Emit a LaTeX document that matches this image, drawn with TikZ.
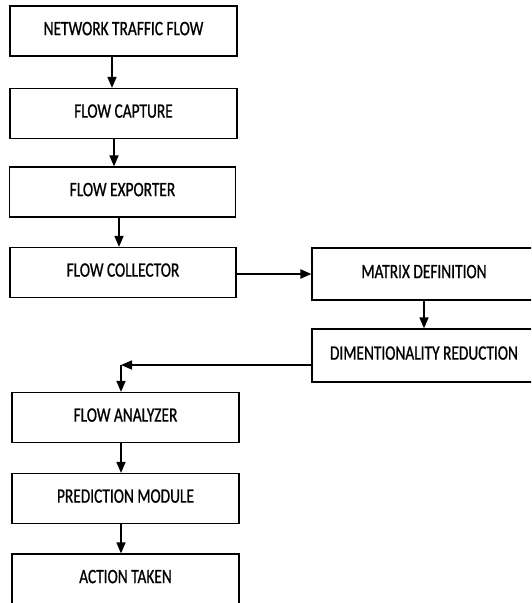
\documentclass[tikz,border=0pt]{standalone}
\usepackage{fontspec}
\setmainfont{Carlito}[FakeStretch=0.75, FakeBold=0.8]
\usetikzlibrary{arrows.meta, positioning, calc}

\begin{document}
\begin{tikzpicture}[x=1pt, y=-1pt,
  flowbox/.style={draw, line width=1.2pt, minimum width=227pt, minimum height=50pt,
    text depth=5pt, font=\fontsize{20.5}{24}\selectfont},
  flowarrow/.style={line width=1.6pt, -{Triangle[length=11pt, width=9pt]}}]
\useasboundingbox (0,0) rectangle (531,603);
\clip (0,0) rectangle (531,603);

% Upper left column
\node[flowbox] (net) at (123.5,31) {NETWORK TRAFFIC FLOW};
\node[flowbox] (cap) at (123.5,113.5) {FLOW CAPTURE};
\node[flowbox, minimum width=226pt] (exp) at (122.5,192) {FLOW EXPORTER};
\node[flowbox, minimum width=226pt] (col) at (123,272.5) {FLOW COLLECTOR};

% Right column (runs past the page edge)
\node[flowbox, minimum width=224pt, minimum height=52pt] (mat) at (424,274) {MATRIX DEFINITION};
\node[flowbox, minimum width=224pt, minimum height=53pt] (dim) at (424,355.5) {DIMENTIONALITY REDUCTION};

% Lower left column
\node[flowbox] (ana) at (125.5,417.5) {FLOW ANALYZER};
\node[flowbox] (pred) at (125.5,498.5) {PREDICTION MODULE};
\node[flowbox] (act) at (125.5,579) {ACTION TAKEN};

% Arrows
\draw[flowarrow] ([xshift=-11.5pt]net.south) -- ([xshift=-11.5pt]cap.north);
\draw[flowarrow] ([xshift=-9.5pt]cap.south) -- ([xshift=-8.5pt]exp.north);
\draw[flowarrow] ([xshift=-3.5pt]exp.south) -- ([xshift=-4pt]col.north);
\draw[flowarrow, line width=2pt] ([yshift=-1.5pt]col.east) -- ([yshift=-1.5pt]col.east -| mat.west);
\draw[flowarrow] (mat.south) -- (dim.north);

% Feedback to the analyzer
\coordinate (turn) at (121,365);
\draw[flowarrow] (dim.west |- turn) -- (turn);
\draw[flowarrow] (turn) -- (turn |- ana.north);

\draw[flowarrow] ([xshift=-4.5pt]ana.south) -- ([xshift=-4.5pt]pred.north);
\draw[flowarrow] ([xshift=-4.5pt]pred.south) -- ([xshift=-4.5pt]act.north);

\end{tikzpicture}
\end{document}
